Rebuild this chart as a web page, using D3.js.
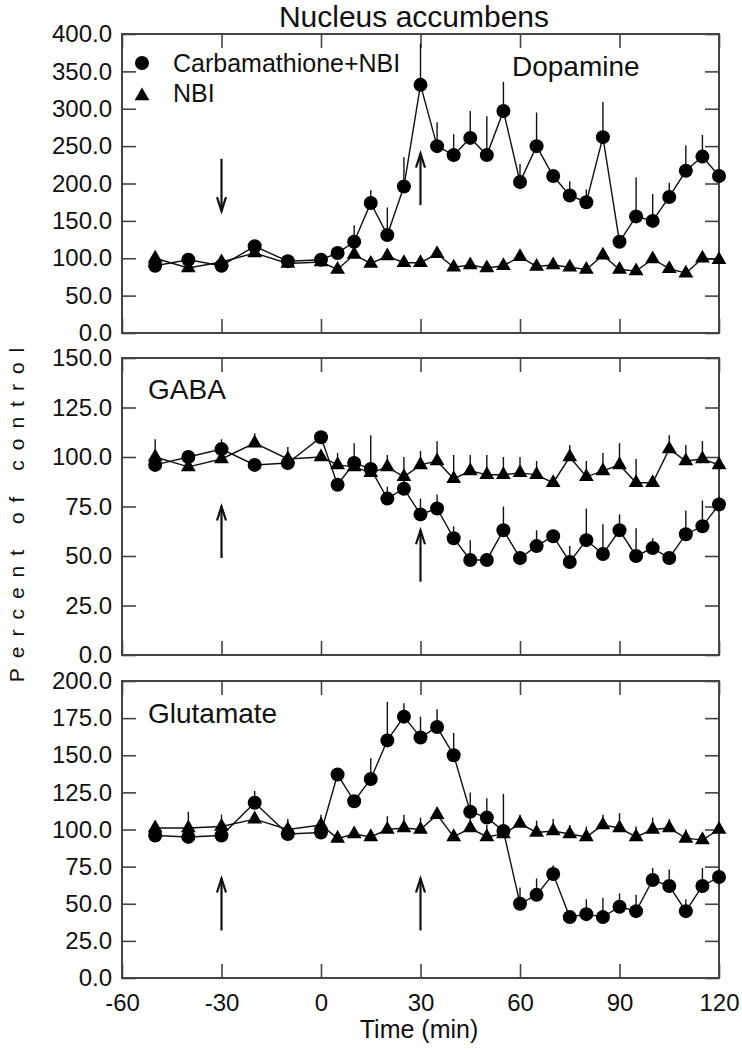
<!DOCTYPE html>
<meta charset="utf-8">
<title>Nucleus accumbens</title>
<style>
body { margin: 0; background: #fff; }
svg text { font-family: "Liberation Sans", Arial, sans-serif; fill: #111; }
.frame { fill: none; stroke: #444; stroke-width: 2px; }
.tick line { stroke: #444; stroke-width: 1.6px; }
.series { fill: none; stroke: #111; stroke-width: 1.4px; }
.err { stroke: #111; stroke-width: 1.4px; }
.arrow { fill: none; stroke: #111; stroke-width: 2.2px; }
</style>
<svg width="742" height="1050"></svg>
<script src="https://d3js.org/d3.v7.min.js"></script>
<script>

// sampling times (min)
var times = [-50,-40,-30,-20,-10,0,5,10,15,20,25,30,35,40,45,50,55,60,65,70,75,80,85,90,95,100,105,110,115,120];

// Dopamine
var daCarb    = [90,98,90,116,96,98,107,122,174,131,196,332,250,238,261,238,297,202,250,210,184,175,262,122,156,150,182,217,236,210];
var daCarbErr = [0,0,0,4,0,0,0,22,17,37,39,55,32,28,36,52,39,24,45,0,19,17,47,8,52,36,19,34,29,0];
var daNbi     = [100,87,95,107,93,95,85,105,93,103,94,94,106,88,91,87,90,102,89,91,88,85,104,85,83,99,86,80,100,98];
var daNbiErr  = [0,0,0,0,0,0,0,0,0,0,0,0,0,0,0,0,0,0,0,0,0,0,0,0,0,0,0,0,0,0];

// GABA
var gabaCarb    = [96,100,104,96,97,110,86,97,94,79,84,71,74,59,48,48,63,49,55,60,47,58,51,63,50,54,49,61,65,76];
var gabaCarbErr = [0,0,5,0,0,0,0,10,17,6,8,8,7,6,10,0,12,0,8,3,8,16,15,8,14,5,0,12,13,4];
var gabaNbi     = [100,95,99,107,99,100,96,95,92,95,90,96,98,89,93,91,91,92,91,87,100,90,93,96,87,87,104,98,99,96];
var gabaNbiErr  = [9,0,0,5,6,0,6,0,0,6,10,7,10,12,8,10,9,8,7,0,6,8,9,11,12,0,7,8,9,0];

// Glutamate
var gluCarb    = [96,95,96,118,97,98,137,119,134,160,176,162,169,150,112,108,99,50,56,70,41,43,41,48,45,66,62,45,62,68];
var gluCarbErr = [0,0,0,8,0,0,0,0,14,26,9,14,12,15,13,13,25,11,11,6,0,10,13,9,11,8,11,8,12,5];
var gluNbi     = [101,101,102,107,100,103,94,97,95,100,101,100,110,95,101,95,97,104,98,99,97,95,103,101,95,100,101,94,93,100];
var gluNbiErr  = [0,11,8,0,7,7,0,0,0,9,9,8,0,0,8,8,0,6,8,8,6,7,7,10,7,8,6,6,0,0];

var xTicks = [-60,-30,0,30,60,90,120];

// arrows: [time, tail value, head value]
var daArrows   = [[-30,233,163],[30,171,240]];
var gabaArrows = [[-30,49,75],[30,37,63]];
var gluArrows  = [[-30,32,67],[30,32,67]];

var panels = [
  {label: "Dopamine", max: 400, step: 50, top: 34, bottom: 333, carb: daCarb, carbErr: daCarbErr, nbi: daNbi, nbiErr: daNbiErr, arrows: daArrows, lx: 512, ly: 76},
  {label: "GABA", max: 150, step: 25, top: 358, bottom: 655, carb: gabaCarb, carbErr: gabaCarbErr, nbi: gabaNbi, nbiErr: gabaNbiErr, arrows: gabaArrows, lx: 148, ly: 399},
  {label: "Glutamate", max: 200, step: 25, top: 681, bottom: 978, carb: gluCarb, carbErr: gluCarbErr, nbi: gluNbi, nbiErr: gluNbiErr, arrows: gluArrows, lx: 148, ly: 723}
];

var svg = d3.select("svg"),
    left = 122, right = 719;

var x = d3.scaleLinear().domain([-60, 120]).range([left, right]);
var tri = d3.symbol().type(d3.symbolTriangle).size(95);
var fmtX = function(d) { return String(d); };  // plain hyphen minus like the original

svg.append("text")
  .attr("x", 414).attr("y", 27)
  .attr("text-anchor", "middle")
  .style("font-size", "30px")
  .text("Nucleus accumbens");

panels.forEach(function(p, pi) {
  var y = d3.scaleLinear().domain([0, p.max]).range([p.bottom, p.top]);
  var g = svg.append("g");
  var yt = d3.range(0, p.max + 0.1, p.step);

  g.append("g").attr("transform", "translate(" + left + ",0)")
    .call(d3.axisLeft(y).tickValues(yt).tickFormat(d3.format(".1f")).tickSizeInner(-14).tickSizeOuter(0).tickPadding(10))
    .call(function(a) { a.select(".domain").remove(); a.selectAll("text").style("font-size", "24px").attr("fill", "#111"); });
  g.append("g").attr("transform", "translate(" + right + ",0)")
    .call(d3.axisRight(y).tickValues(yt).tickFormat("").tickSizeInner(-14).tickSizeOuter(0))
    .select(".domain").remove();
  g.append("g").attr("transform", "translate(0," + p.top + ")")
    .call(d3.axisTop(x).tickValues(xTicks).tickFormat("").tickSizeInner(-14).tickSizeOuter(0))
    .select(".domain").remove();
  g.append("g").attr("transform", "translate(0," + p.bottom + ")")
    .call(d3.axisBottom(x).tickValues(xTicks).tickFormat(pi == 2 ? fmtX : "").tickSizeInner(-14).tickSizeOuter(0).tickPadding(10))
    .call(function(a) { a.select(".domain").remove(); a.selectAll("text").style("font-size", "24px").attr("fill", "#111").attr("dy", "0.95em"); });

  g.append("rect").attr("class", "frame")
    .attr("x", left).attr("y", p.top)
    .attr("width", right - left).attr("height", p.bottom - p.top);

  // error bars (upward only)
  [[p.carb, p.carbErr], [p.nbi, p.nbiErr]].forEach(function(s) {
    g.selectAll(null).data(times.map(function(t, i) { return [t, s[0][i], s[1][i]]; }).filter(function(d) { return d[2] > 0; }))
      .enter().append("line").attr("class", "err")
      .attr("x1", function(d) { return x(d[0]); }).attr("x2", function(d) { return x(d[0]); })
      .attr("y1", function(d) { return y(d[1]); }).attr("y2", function(d) { return y(d[1] + d[2]); });
  });

  var line = d3.line().x(function(d) { return x(d[0]); }).y(function(d) { return y(d[1]); });
  var nbiPts = times.map(function(t, i) { return [t, p.nbi[i]]; });
  var carbPts = times.map(function(t, i) { return [t, p.carb[i]]; });

  g.append("path").attr("class", "series").attr("d", line(nbiPts));
  g.append("path").attr("class", "series").attr("d", line(carbPts));

  g.selectAll(null).data(carbPts).enter().append("circle")
    .attr("cx", function(d) { return x(d[0]); }).attr("cy", function(d) { return y(d[1]); })
    .attr("r", 7).attr("fill", "#000");
  g.selectAll(null).data(nbiPts).enter().append("path")
    .attr("d", tri).attr("fill", "#000")
    .attr("transform", function(d) { return "translate(" + x(d[0]) + "," + y(d[1]) + ")"; });

  // arrows
  p.arrows.forEach(function(a) {
    var ax = x(a[0]), y0 = y(a[1]), y1 = y(a[2]);
    var dir = y1 < y0 ? 1 : -1;
    g.append("line").attr("class", "arrow").attr("x1", ax).attr("x2", ax).attr("y1", y0).attr("y2", y1);
    g.append("path").attr("class", "arrow")
      .attr("d", "M" + (ax - 4.5) + "," + (y1 + dir * 14) + "L" + ax + "," + y1 + "L" + (ax + 4.5) + "," + (y1 + dir * 14));
  });

  g.append("text").attr("x", p.lx).attr("y", p.ly)
    .style("font-size", "28px").text(p.label);
});

// legend
svg.append("circle").attr("cx", 142).attr("cy", 63).attr("r", 7).attr("fill", "#000");
svg.append("path").attr("d", tri).attr("fill", "#000").attr("transform", "translate(142,96)");
svg.append("text").attr("x", 173).attr("y", 72).style("font-size", "25px").text("Carbamathione+NBI");
svg.append("text").attr("x", 173).attr("y", 102).style("font-size", "25px").text("NBI");

// axis titles
svg.append("text")
  .attr("x", 419).attr("y", 1038)
  .attr("text-anchor", "middle")
  .style("font-size", "25px")
  .text("Time (min)");

svg.append("text")
  .attr("transform", "translate(24,510) rotate(-90)")
  .attr("text-anchor", "middle")
  .style("font-size", "21px")
  .style("letter-spacing", "10px")
  .text("Percent of control");

</script>
